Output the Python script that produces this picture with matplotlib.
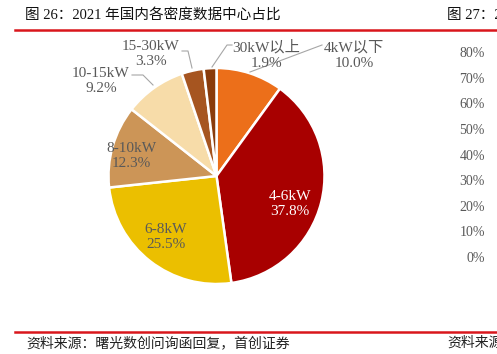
import matplotlib
matplotlib.use('Agg')
import matplotlib.pyplot as plt
from matplotlib.ticker import FuncFormatter

# data
categories = ['4kW以下', '4-6kW', '6-8kW', '8-10kW', '10-15kW', '15-30kW', '30kW以上']
shares = [10.0, 37.8, 25.5, 12.3, 9.2, 3.3, 1.9]
colors = ['#EC6F1A', '#A80000', '#EBBF00', '#CC9557', '#F7DCA9', '#A65520', '#8A3C0C']
right_ticks = [0, 10, 20, 30, 40, 50, 60, 70, 80]

title = '图 26：2021 年国内各密度数据中心占比'
title_right = '图 27：2'
source = '资料来源：曙光数创问询函回复，首创证券'
source_right = '资料来源'

W, H = 497, 354
fonts = ['Liberation Serif', 'Noto Sans CJK SC', 'DejaVu Sans']
gray = '#595959'

fig = plt.figure(figsize=(W / 100, H / 100), dpi=100)

# page decoration: red rules, titles, source lines
fig.add_artist(plt.Line2D([15 / W, 1], [1 - 30 / H] * 2, color='#D9161C', lw=1.8))
fig.add_artist(plt.Line2D([15 / W, 1], [1 - 332 / H] * 2, color='#D9161C', lw=1.8))
fig.text(25 / W, 1 - 15 / H, title, family=fonts, fontsize=10.5, va='center', color='#111111')
fig.text(447 / W, 1 - 15 / H, title_right, family=fonts, fontsize=10.5, va='center', color='#111111')
fig.text(26 / W, 1 - 343 / H, source, family=fonts, fontsize=10, va='center', color='#222222')
fig.text(447 / W, 1 - 343 / H, source_right, family=fonts, fontsize=10, va='center', color='#222222')

# pie
cx, cy, r = 216.5, 176, 108
ax = fig.add_axes([(cx - r) / W, (H - cy - r) / H, 2 * r / W, 2 * r / H])
ax.pie(shares, colors=colors, startangle=90, counterclock=False, radius=1,
       wedgeprops=dict(edgecolor='white', linewidth=1.8))
ax.set_xlim(-1, 1)
ax.set_ylim(-1, 1)
ax.set_aspect('auto')
ax.axis('off')


def d(px, py):
    return ((px - cx) / r, (cy - py) / r)


label_pos = [(354, 55), (290, 204), (166, 237), (131, 156), (101, 81), (151, 54), (266, 55)]
for cat, val, pos in zip(categories, shares, label_pos):
    col = 'white' if cat == '4-6kW' else gray
    x, y = d(*pos)
    ax.text(x, y, f'{cat}\n{val:.1f}%', ha='center', va='center', family=fonts,
            fontsize=11, color=col, linespacing=1.25, clip_on=False)

# leader lines
leaders = [
    [(250, 72), (322, 45)],
    [(212, 67), (227, 45), (232, 45)],
    [(192, 68), (188, 51), (182, 51)],
    [(153, 85), (143, 75), (132, 75)],
]
for pts in leaders:
    xs, ys = zip(*[d(*p) for p in pts])
    ax.plot(xs, ys, color='#A6A6A6', lw=0.8, clip_on=False)

# partial axis of the neighbouring chart
ax2 = fig.add_axes([489 / W, (H - 257) / H, 8 / W, 205 / H])
ax2.set_ylim(0, 80)
ax2.set_yticks(right_ticks)
ax2.yaxis.set_major_formatter(FuncFormatter(lambda v, p: f'{int(v)}%'))
ax2.tick_params(axis='y', length=0, pad=3, labelsize=10, labelcolor=gray)
for lab in ax2.get_yticklabels():
    lab.set_family(fonts)
ax2.set_xticks([])
for s in ax2.spines.values():
    s.set_visible(False)
ax2.patch.set_alpha(0)

fig.savefig('out.png', dpi=100)
